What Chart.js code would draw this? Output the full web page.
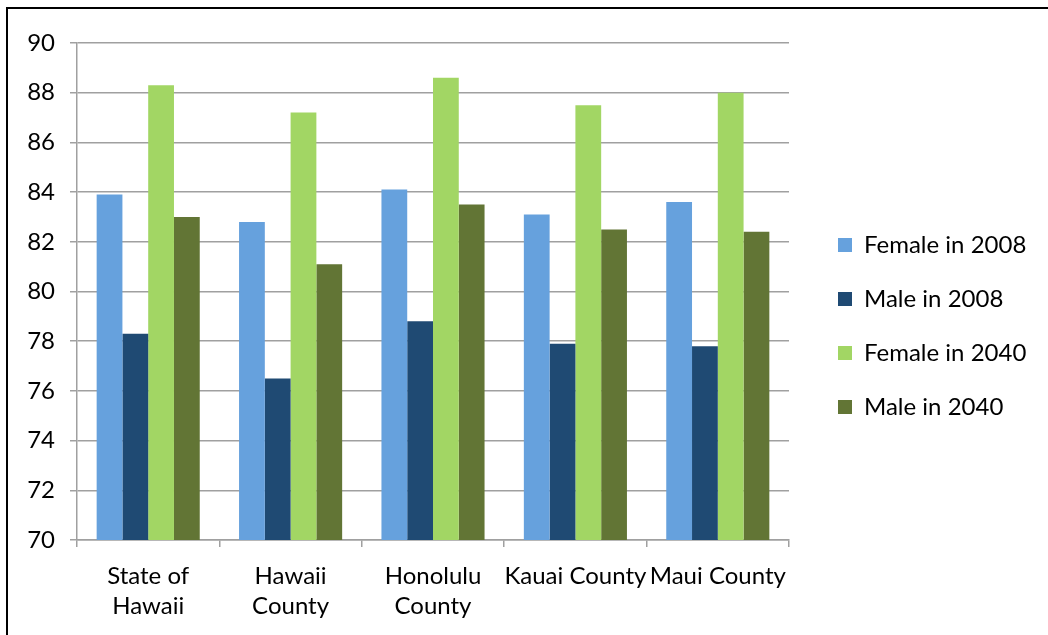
<!DOCTYPE html>
<html>
<head>
<meta charset="utf-8">
<script src="https://cdn.jsdelivr.net/npm/chart.js@4.4.1/dist/chart.umd.min.js"></script>
<style>
  html, body { margin: 0; padding: 0; background: #fff; overflow: hidden; width: 1048px; height: 635px; }
  #frame { position: absolute; left: 6px; top: 7px; width: 1100px; height: 700px; border-left: 2px solid #000; border-top: 2px solid #000; box-sizing: border-box; }
  #wrap { position: absolute; left: 0; top: 0; width: 1048px; height: 635px; }
</style>
</head>
<body>
<div id="frame"></div>
<div id="wrap"><canvas id="c" width="1048" height="635"></canvas></div>
<script>
const categories = [["State of", "Hawaii"], ["Hawaii", "County"], ["Honolulu", "County"], "Kauai County", "Maui County"];
const seriesNames = ["Female in 2008", "Male in 2008", "Female in 2040", "Male in 2040"];
const female2008 = [83.9, 82.8, 84.1, 83.1, 83.6];
const male2008 = [78.3, 76.5, 78.8, 77.9, 77.8];
const female2040 = [88.3, 87.2, 88.6, 87.5, 88.0];
const male2040 = [83.0, 81.1, 83.5, 82.5, 82.4];
const yTicks = [70, 72, 74, 76, 78, 80, 82, 84, 86, 88, 90];
const colors = ["#66A1DD", "#1F4A73", "#A2D664", "#627535"];

const FONT = "Lato, 'Open Sans', sans-serif";
const GRID = "#A0A0A0";
const PLOT_RIGHT = 789;
const LEGEND_SHIFT_X = 19;
const LEGEND_SHIFT_Y = -13;

const seriesData = [female2008, male2008, female2040, male2040];

const legendShift = {
  id: "legendShift",
  afterLayout(chart) {
    const lg = chart.legend;
    if (lg) {
      lg.left += LEGEND_SHIFT_X; lg.right += LEGEND_SHIFT_X;
      lg.top += LEGEND_SHIFT_Y; lg.bottom += LEGEND_SHIFT_Y;
    }
  }
};

const chart = new Chart(document.getElementById("c"), {
  type: "bar",
  data: {
    labels: categories,
    datasets: seriesNames.map((n, i) => ({
      label: n,
      data: seriesData[i],
      backgroundColor: colors[i],
      borderWidth: 0,
      categoryPercentage: 0.724,
      barPercentage: 1.0
    }))
  },
  plugins: [legendShift],
  options: {
    responsive: false,
    animation: false,
    devicePixelRatio: 1,
    layout: { padding: { top: 43, bottom: 0, left: 10, right: 0 } },
    plugins: {
      tooltip: { enabled: false },
      legend: {
        position: "right",
        align: "center",
        labels: {
          boxWidth: 14,
          boxHeight: 14,
          padding: 30,
          color: "#000",
          font: { family: FONT, size: 24 }
        }
      }
    },
    scales: {
      x: {
        grid: { display: true, drawOnChartArea: false, drawTicks: true, tickLength: 7, color: GRID, lineWidth: 1.5 },
        border: { display: true, color: GRID, width: 1.5 },
        ticks: {
          autoSkip: false, maxRotation: 0, minRotation: 0,
          color: "#000", padding: 14,
          font: { family: FONT, size: 24, lineHeight: 1.25 }
        },
        afterFit: (s) => { s.height = 95; }
      },
      y: {
        min: 70, max: 90,
        afterBuildTicks: (s) => { s.ticks = yTicks.map(v => ({ value: v })); },
        grid: { color: GRID, lineWidth: 1.5, tickLength: 7, drawTicks: true },
        border: { display: true, color: GRID, width: 1.5 },
        ticks: { color: "#000", padding: 15, font: { family: FONT, size: 24 } },
        afterFit: (s) => { s.width = 67; }
      }
    }
  }
});

const extra = chart.chartArea.right - PLOT_RIGHT;
if (extra > 0) {
  chart.options.layout.padding.right = extra;
  chart.update();
}
</script>
</body>
</html>
